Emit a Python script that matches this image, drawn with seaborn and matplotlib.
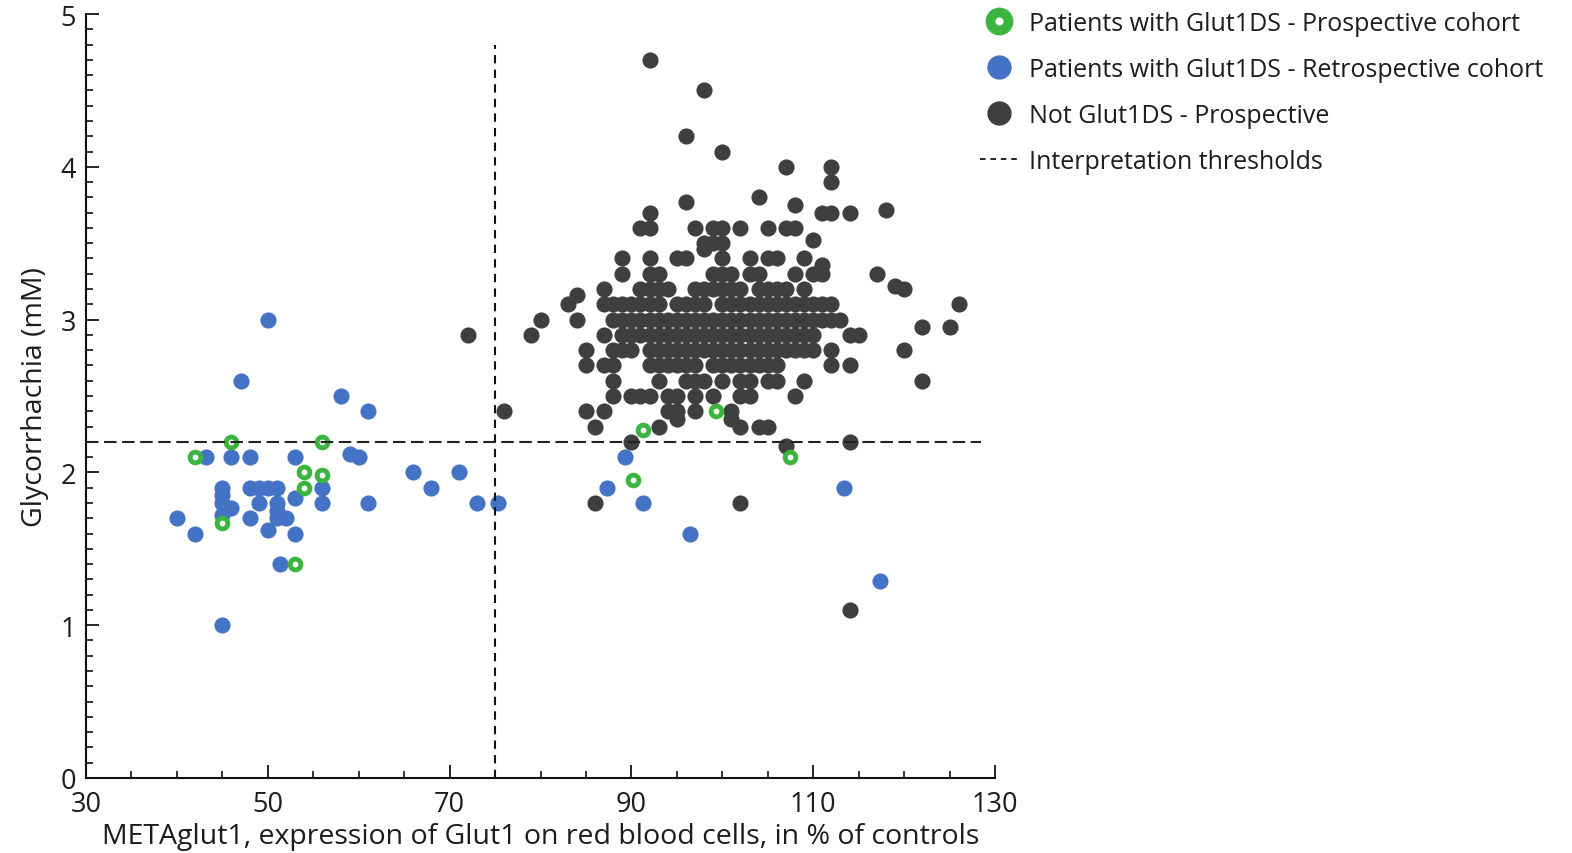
import numpy as np
import pandas as pd
import matplotlib
matplotlib.use("Agg")
import matplotlib.pyplot as plt
import seaborn as sns
from matplotlib.lines import Line2D
from matplotlib.ticker import MultipleLocator, FixedLocator

sns.set_theme(style="white")
plt.rcParams['font.family'] = ['Open Sans', 'DejaVu Sans']
plt.rcParams['lines.scale_dashes'] = False

# ---------------- data ----------------
green_x = [42, 46, 56, 54, 56, 54, 45, 53, 91.3, 99.3, 107.4, 90.2]
green_y = [2.1, 2.2, 2.2, 2.0, 1.98, 1.9, 1.67, 1.4, 2.28, 2.4, 2.1, 1.95]

blue_x = [40, 42, 43.2, 45, 45, 45, 46, 46, 45, 48, 48, 49, 50, 51, 49, 48, 50, 51, 51, 51,
          52, 51.3, 53, 53, 53, 56, 56, 58, 61, 59, 60, 61, 66, 68, 71, 73, 75.3, 45, 50, 47,
          89.3, 87.3, 91.3, 96.4, 113.4, 117.3]
blue_y = [1.7, 1.6, 2.1, 1.9, 1.85, 1.8, 2.1, 1.77, 1.72, 2.1, 1.9, 1.9, 1.9, 1.9, 1.8, 1.7, 1.62, 1.8, 1.75, 1.7,
          1.7, 1.4, 2.1, 1.83, 1.6, 1.9, 1.8, 2.5, 2.4, 2.12, 2.1, 1.8, 2.0, 1.9, 2.0, 1.8, 1.8, 1.0, 3.0, 2.6,
          2.1, 1.9, 1.8, 1.6, 1.9, 1.29]

# dark points arranged by glycorrhachia level (mM) -> METAglut1 values
dark_levels = [3.4, 3.3, 3.2, 3.1, 3.0, 2.9, 2.8, 2.7, 2.6, 2.5, 2.4, 2.3, 2.2]
dark_level_x = [
    [89, 92, 95, 96, 100, 103, 105, 106, 109],
    [89, 92, 93, 99, 100, 101, 103, 104, 108, 110, 111, 117],
    [87, 91, 92, 93, 94, 97, 98, 99, 100, 101, 102, 104, 105, 106, 107, 109],
    [83, 87, 88, 89, 90, 91, 92, 93, 95, 96, 97, 98, 100, 101, 102, 103, 104, 105, 106, 107,
     108, 109, 110, 111, 112, 126],
    [80, 84, 88, 89, 90, 91, 92, 93, 94, 95, 96, 97, 98, 99, 100, 101, 102, 103, 104, 105,
     106, 107, 108, 109, 110, 111, 112, 113],
    [72, 79, 87, 89, 90, 91, 92, 93, 94, 95, 96, 97, 98, 99, 100, 101, 102, 103, 104, 105,
     106, 107, 108, 109, 110, 114, 115],
    [85, 88, 89, 90, 92, 93, 94, 95, 96, 97, 98, 99, 100, 101, 102, 103, 104, 105, 106, 107,
     108, 109, 110, 112, 120],
    [85, 87, 88, 92, 93, 94, 95, 96, 97, 99, 100, 101, 102, 103, 104, 105, 106, 112, 114],
    [88, 93, 96, 97, 98, 100, 102, 103, 105, 106, 109, 122],
    [88, 90, 91, 92, 94, 95, 97, 99, 102, 103, 108],
    [76, 85, 87, 94, 95, 97, 101],
    [86, 93, 102, 104, 105],
    [90, 114],
]
dark_extra_x = [92, 98, 96, 100, 107, 112, 112, 104, 96, 108, 118, 92, 111, 112, 114,
                91, 92, 97, 99, 100, 102, 105, 107, 108, 110, 98, 99, 100, 98, 111,
                84, 119, 120, 122, 125, 95, 101, 107, 86, 102, 114]
dark_extra_y = [4.7, 4.5, 4.2, 4.1, 4.0, 4.0, 3.9, 3.8, 3.77, 3.75, 3.72, 3.7, 3.7, 3.7, 3.7,
                3.6, 3.6, 3.6, 3.6, 3.6, 3.6, 3.6, 3.6, 3.6, 3.52, 3.5, 3.5, 3.5, 3.46, 3.36,
                3.16, 3.22, 3.2, 2.95, 2.95, 2.35, 2.35, 2.17, 1.8, 1.8, 1.1]

x_threshold = 75
y_threshold = 2.2
x_ticks = [30, 50, 70, 90, 110, 130]
y_ticks = [0, 1, 2, 3, 4, 5]

labels = ["Patients with Glut1DS - Prospective cohort",
          "Patients with Glut1DS - Retrospective cohort",
          "Not Glut1DS - Prospective",
          "Interpretation thresholds"]

GREEN = "#3bb53f"
BLUE = "#4472c4"
DARK = "#3f3f3f"
TXT = "#1c1c1c"

# ---------------- frames ----------------
dx, dy = [], []
for lvl, xs in zip(dark_levels, dark_level_x):
    dx.extend(xs)
    dy.extend([lvl] * len(xs))
dx.extend(dark_extra_x)
dy.extend(dark_extra_y)
df_dark = pd.DataFrame({"x": dx, "y": dy})
df_blue = pd.DataFrame({"x": blue_x, "y": blue_y})
df_green = pd.DataFrame({"x": green_x, "y": green_y})

W, H = 1572, 854
fig = plt.figure(figsize=(W / 100, H / 100), dpi=100)
ax = fig.add_axes([86 / W, 1 - 779 / H, (995 - 86) / W, (779 - 15) / H])

sns.scatterplot(data=df_dark, x="x", y="y", color=DARK, s=135, linewidth=0, ax=ax, zorder=2)
sns.scatterplot(data=df_blue, x="x", y="y", color=BLUE, s=135, linewidth=0, ax=ax, zorder=3)
sns.scatterplot(data=df_green, x="x", y="y", color=GREEN, facecolor="white", edgecolor=GREEN,
                s=60, linewidth=3.5, ax=ax, zorder=4)

ax.plot([x_threshold, x_threshold], [0, 4.8], color="#111111", lw=1.5,
        dashes=(6, 4.5), zorder=5)
ax.plot([30, 128.5], [y_threshold, y_threshold], color="#222222", lw=1.5,
        dashes=(9, 4), zorder=5)

ax.set_xlim(30, 130)
ax.set_ylim(0, 5)
ax.xaxis.set_major_locator(FixedLocator(x_ticks))
ax.xaxis.set_minor_locator(MultipleLocator(5))
ax.yaxis.set_major_locator(FixedLocator(y_ticks))
ax.yaxis.set_minor_locator(MultipleLocator(0.1))

for s in ["top", "right"]:
    ax.spines[s].set_visible(False)
for s in ["left", "bottom"]:
    ax.spines[s].set_color("#111111")
    ax.spines[s].set_linewidth(1.5)

ax.tick_params(axis="both", which="major", direction="in", length=9.5, width=1.3,
               color="#111111", labelsize=19.5, labelcolor=TXT)
ax.tick_params(axis="x", which="major", pad=9)
ax.tick_params(axis="y", which="major", pad=7)
ax.tick_params(axis="both", which="minor", direction="in", length=5, width=1.2,
               color="#111111")
ax.tick_params(axis="y", which="both", left=True)
ax.tick_params(axis="x", which="both", bottom=True)

ax.set_xlabel("METAglut1, expression of Glut1 on red blood cells, in % of controls",
              fontsize=20.5, color=TXT)
ax.set_ylabel("Glycorrhachia (mM)", fontsize=20.5, color=TXT)
ax.xaxis.set_label_coords(0.5, -0.058)
ax.yaxis.set_label_coords(-0.041, 0.5)
ax.grid(False)

handles = [
    Line2D([], [], ls="none", marker="o", markersize=13, markerfacecolor="white",
           markeredgecolor=GREEN, markeredgewidth=7),
    Line2D([], [], ls="none", marker="o", markersize=17.5, markerfacecolor=BLUE,
           markeredgewidth=0),
    Line2D([], [], ls="none", marker="o", markersize=17.5, markerfacecolor=DARK,
           markeredgewidth=0),
    Line2D([], [], color="#222222", lw=1.4, dashes=(4, 3.5)),
]
leg = fig.legend(handles, labels, loc="upper left", bbox_to_anchor=(980 / W, 1 - 12 / H),
                 frameon=False, fontsize=18, handlelength=1.5, handletextpad=0.45,
                 labelspacing=0.84, borderaxespad=0, borderpad=0)
for t in leg.get_texts():
    t.set_color(TXT)

fig.savefig("out.png", dpi=100, facecolor="white")
